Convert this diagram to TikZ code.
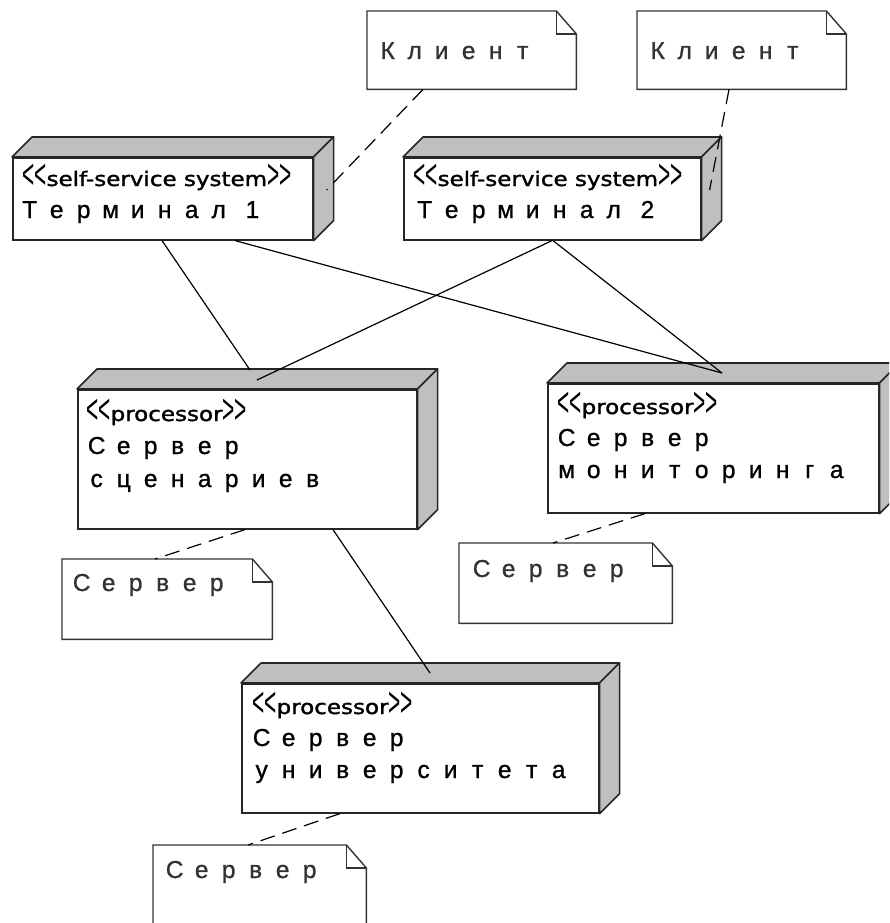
\documentclass[tikz,border=0pt]{standalone}
\usepackage{fontspec}
\setmainfont{Liberation Sans}
\newfontfamily\stfont[FakeStretch=1.15,FakeBold=1.6]{DejaVu Sans}
\newfontfamily\chfont{Liberation Sans}
\newfontfamily\nmfont[FakeBold=1.0]{Liberation Sans}
\usetikzlibrary{calc}
\makeatletter
% full-width lettering: every character sits in a cell of fixed pitch
\newcommand\wt[1]{\@tfor\wtc:=#1\do{\makebox[27pt][c]{\wtc}}}
\makeatother
% stereotype text with tall narrow chevrons
\newcommand\chev[1]{{\chfont\fontsize{22}{24}\selectfont\raisebox{-2.5pt}{\scalebox{0.95}[1.9]{#1}}}}
\newcommand\stereo[1]{\chev{<}\chev{<}{\stfont #1}\chev{>}\chev{>}}
\begin{document}
\begin{tikzpicture}[x=1pt,y=-1pt,
  devfront/.style={rectangle, draw=black!85, line width=1.6pt, fill=white, inner sep=0pt, anchor=north west},
  devface/.style={draw=black!85, line width=1.6pt, fill=black!25, line join=round},
  notebox/.style={rectangle, inner sep=0pt, anchor=north west},
  noteline/.style={draw=black!80, line width=1.4pt, fill=white},
  stereotxt/.style={anchor=base west, inner sep=0pt, font=\fontsize{20}{24}\selectfont},
  nametxt/.style={anchor=base west, inner sep=0pt, font=\nmfont\fontsize{24.5}{28}\selectfont},
  notetxt/.style={nametxt, text=black!80},
  link/.style={draw=black, line width=1.2pt},
  notelink/.style={draw=black, line width=1.2pt, dash pattern=on 15pt off 8pt}]
\useasboundingbox (0,0) rectangle (889,923);
\clip (0,0) rectangle (889,923);
\fill[white] (0,0) rectangle (889,923);

% ---- notes ----
\node[notebox, minimum width=209pt, minimum height=78pt] (c1) at (367,11) {};
\node[notebox, minimum width=209pt, minimum height=78pt] (c2) at (637,11) {};
\node[notebox, minimum width=210pt, minimum height=80pt] (na) at (62,559) {};
\node[notebox, minimum width=213pt, minimum height=80pt] (nb) at (459,543) {};
\node[notebox, minimum width=213pt, minimum height=90pt] (nc) at (153,845) {};
\foreach \n in {c1,c2,na,nb,nc}{
  \path[noteline] (\n.north west) -- ($(\n.north east)+(-20,0)$) -- ($(\n.north east)+(0,23)$)
     -- (\n.south east) -- (\n.south west) -- cycle;
  \draw[noteline, fill=none] ($(\n.north east)+(-20,0)$) |- ($(\n.north east)+(0,23)$);
}
\node[notetxt] (c1t) at (374,59) {\wt{Клиент}};
\node[notetxt] (c2t) at (644,59) {\wt{Клиент}};
\node[notetxt] (nat) at (68,591) {\wt{Сервер}};
\node[notetxt] (nbt) at (468,577) {\wt{Сервер}};
\node[notetxt] (nct) at (161,878) {\wt{Сервер}};

% ---- devices ----
\node[devfront, minimum width=300pt, minimum height=82pt] (t1) at (12,157) {};
\node[devfront, minimum width=297pt, minimum height=82pt] (t2) at (403,157) {};
\node[devfront, minimum width=339pt, minimum height=139pt] (ss) at (77,389) {};
\node[devfront, minimum width=331pt, minimum height=129pt] (ms) at (547,383) {};
\node[devfront, minimum width=357pt, minimum height=129pt] (us) at (241,683) {};
\foreach \n in {t1,t2,ss,ms,us}{
  \path[devface] (\n.north west) -- ++(20,-20) -- ($(\n.north east)+(20,-20)$) -- (\n.north east) -- cycle;
  \path[devface] (\n.north east) -- ++(20,-20) -- ($(\n.south east)+(20,-20)$) -- (\n.south east) -- cycle;
}

\node[stereotxt] (t1s) at (22,186) {\stereo{self-service system}};
\node[nametxt] (t1n) at (16,218) {\wt{Терминал}\makebox[13.5pt]{}\makebox[13.5pt][c]{1}};
\node[stereotxt] (t2s) at (413,186) {\stereo{self-service system}};
\node[nametxt] (t2n) at (411,218) {\wt{Терминал}\makebox[13.5pt]{}\makebox[13.5pt][c]{2}};

\node[stereotxt] (sss) at (86,421) {\stereo{processor}};
\node[nametxt] (ssn1) at (83,454) {\wt{Сервер}};
\node[nametxt] (ssn2) at (83,487) {\wt{сценариев}};

\node[stereotxt] (mss) at (557,414) {\stereo{processor}};
\node[nametxt] (msn1) at (553,446) {\wt{Сервер}};
\node[nametxt] (msn2) at (553,478) {\wt{мониторинга}};

\node[stereotxt] (uss) at (252,714) {\stereo{processor}};
\node[nametxt] (usn1) at (248,746) {\wt{Сервер}};
\node[nametxt] (usn2) at (248,778) {\wt{университета}};

% ---- communication paths ----
\draw[link] ($(t1.south west)+(150,0)$) -- ($(ss.north west)+(173,-19)$);
\draw[link] ($(t1.south west)+(223,0)$) -- ($(ms.north west)+(175,-10)$);
\draw[link] ($(t2.south west)+(149,0)$) -- ($(ss.north west)+(180,-9)$);
\draw[link] ($(t2.south west)+(150,0)$) -- ($(ms.north west)+(175,-10)$);
\draw[link] ($(ss.south west)+(256,0)$) -- ($(us.north west)+(189,-10)$);

% ---- note anchors ----
\draw[notelink] ($(c1.south west)+(56,0)$) -- ($(t1.north east)+(13,33)$);
\draw[notelink] ($(c2.south west)+(92,0)$) -- ($(t2.north east)+(8,33)$);
\draw[notelink] ($(ss.south west)+(168,0)$) -- ($(na.north west)+(93,0)$);
\draw[notelink] ($(ms.south west)+(98,0)$) -- ($(nb.north west)+(94,0)$);
\draw[notelink] ($(us.south west)+(99,0)$) -- ($(nc.north west)+(95,0)$);
\end{tikzpicture}
\end{document}
